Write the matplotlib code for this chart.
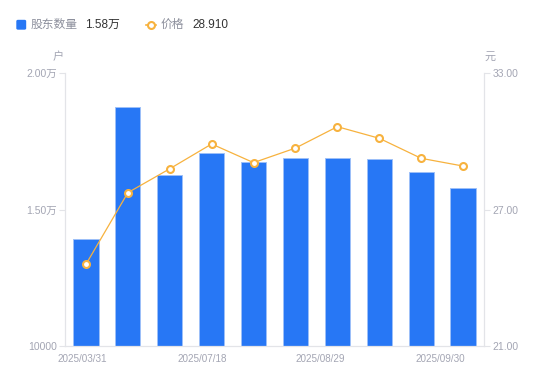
import matplotlib.pyplot as plt
from matplotlib.patches import FancyBboxPatch
from matplotlib.lines import Line2D
from matplotlib.ticker import FuncFormatter

plt.rcParams['font.family'] = ['Liberation Sans', 'Noto Sans CJK SC', 'DejaVu Sans']

# data
dates = ['2025/03/31', '2025/04/30', '2025/06/30', '2025/07/18', '2025/07/31',
         '2025/08/15', '2025/08/29', '2025/09/10', '2025/09/19', '2025/09/30']
holders = [13920, 18740, 16250, 17060, 16740, 16890, 16890, 16850, 16370, 15800]
price = [24.59, 27.74, 28.79, 29.88, 29.06, 29.70, 30.64, 30.13, 29.25, 28.91]
shown_dates = [0, 3, 6, 9]

bar_color = '#2777f5'
line_color = '#f7b23e'
axis_color = '#e3e4e8'
label_color = '#a3a5b3'

fig = plt.figure(figsize=(5.5, 3.81), dpi=100)
ax = fig.add_axes([65 / 550, 1 - 346 / 381, 419 / 550, 273 / 381])
ax2 = ax.twinx()

x = list(range(len(dates)))
ax.bar(x, holders, width=0.6, bottom=0, color=bar_color,
       edgecolor='#9dc0f8', linewidth=0.7, zorder=2)
ax.set_ylim(10000, 20000)
ax.set_xlim(-0.5, len(dates) - 0.5)
ax.set_yticks([10000, 15000, 20000])


def wan(v, pos):
    if v >= 15000:
        return '%.2f万' % (v / 10000)
    return '%d' % v


ax.yaxis.set_major_formatter(FuncFormatter(wan))

ax2.plot(x, price, color=line_color, linewidth=0.9, marker='o', markersize=5,
         markerfacecolor='white', markeredgecolor=line_color, markeredgewidth=1.5,
         zorder=3)
ax2.set_ylim(21, 33)
ax2.set_yticks([21, 27, 33])
ax2.set_yticklabels(['%.2f' % v for v in [21, 27, 33]])

# x labels drift left, last one ends at the bar centre
offsets = [-0.1, -0.23, -0.4, -0.55]
ax.set_xticks([shown_dates[i] + offsets[i] for i in range(len(shown_dates))])
ax.set_xticklabels([dates[i] for i in shown_dates])
ax.tick_params(axis='x', length=0, pad=6, labelsize=7.1, labelcolor=label_color)
ax.tick_params(axis='y', length=4, width=0.8, color=axis_color, pad=2,
               labelsize=7.5, labelcolor=label_color)
ax2.tick_params(axis='y', length=4, width=0.8, color=axis_color, pad=2,
                labelsize=7.5, labelcolor=label_color)

for a in (ax, ax2):
    for s in a.spines.values():
        s.set_visible(False)
ax.spines['left'].set_visible(True)
ax.spines['bottom'].set_visible(True)
ax2.spines['right'].set_visible(True)
for s in (ax.spines['left'], ax.spines['bottom'], ax2.spines['right']):
    s.set_color(axis_color)
    s.set_linewidth(0.9)

fig.text(58 / 550, 1 - 57 / 381, '户', fontsize=8, color=label_color,
         ha='center', va='center')
fig.text(490 / 550, 1 - 57 / 381, '元', fontsize=8, color=label_color,
         ha='center', va='center')

# legend along the top
ly = 1 - 24.5 / 381
fig.patches.append(FancyBboxPatch((17 / 550, 1 - 29 / 381), 8.5 / 550, 8.5 / 381,
                                  boxstyle='round,pad=0,rounding_size=0.002',
                                  transform=fig.transFigure, color=bar_color))
fig.text(31 / 550, ly, '股东数量', fontsize=8.5, color='#8c8f9c', va='center')
fig.text(85 / 550, ly, '%.2f万' % (holders[-1] / 10000), fontsize=8.5,
         color='#333333', va='center')
fig.lines.append(Line2D([146 / 550, 156 / 550], [ly, ly], transform=fig.transFigure,
                        color=line_color, linewidth=1.2))
fig.lines.append(Line2D([151 / 550], [ly], transform=fig.transFigure, marker='o',
                        markersize=5, markerfacecolor='white',
                        markeredgecolor=line_color, markeredgewidth=1.5))
fig.text(161 / 550, ly, '价格', fontsize=8.5, color='#8c8f9c', va='center')
fig.text(192 / 550, ly, '%.3f' % price[-1], fontsize=8.5, color='#333333',
         va='center')

fig.savefig('out.png', dpi=100)
